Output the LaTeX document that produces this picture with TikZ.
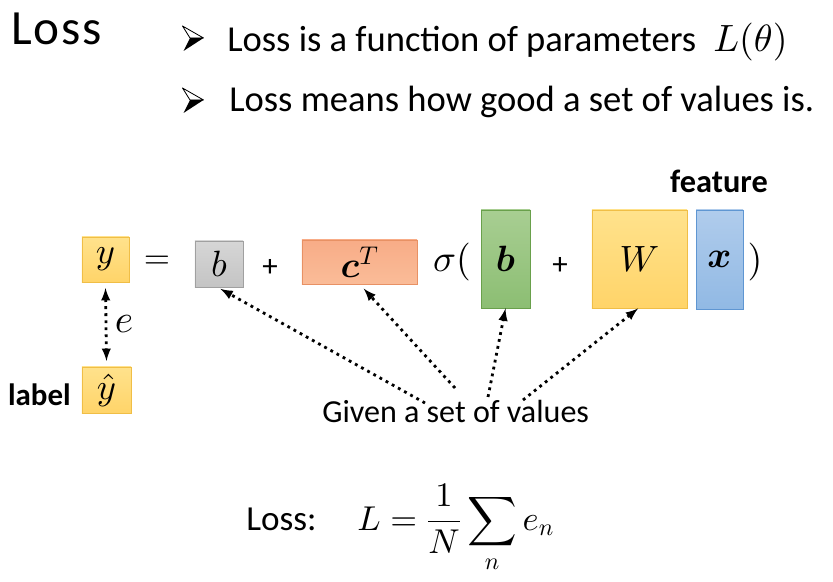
\documentclass[tikz,border=0pt]{standalone}
\usepackage{amsmath,bm}
\usepackage{fontspec}
\setmainfont{Carlito}
% scalable math fonts
\DeclareFontShape{OML}{cmm}{m}{it}{<->cmmi10}{}
\DeclareFontShape{OML}{cmm}{b}{it}{<->cmmib10}{}
\DeclareFontShape{OMS}{cmsy}{m}{n}{<->cmsy10}{}
\DeclareFontShape{OMS}{cmsy}{b}{n}{<->cmbsy10}{}
\DeclareFontShape{OMX}{cmex}{m}{n}{<->cmex10}{}
\DeclareFontShape{OT1}{cmr}{m}{n}{<->cmr10}{}
\DeclareFontShape{OT1}{cmr}{bx}{n}{<->cmbx10}{}

\definecolor{ytop}{RGB}{255,226,140}
\definecolor{ybot}{RGB}{255,212,105}
\definecolor{ybord}{RGB}{240,190,70}
\definecolor{gtop}{RGB}{214,214,214}
\definecolor{gbot}{RGB}{196,196,196}
\definecolor{gbord}{RGB}{160,160,160}
\definecolor{stop}{RGB}{248,172,135}
\definecolor{sbot}{RGB}{250,188,152}
\definecolor{sbord}{RGB}{232,145,100}
\definecolor{ntop}{RGB}{168,206,146}
\definecolor{nbot}{RGB}{140,190,115}
\definecolor{nbord}{RGB}{105,160,75}
\definecolor{btop}{RGB}{176,204,236}
\definecolor{bbot}{RGB}{145,185,228}
\definecolor{bbord}{RGB}{95,150,210}

\tikzset{
	box/.style={line width=0.6pt, inner sep=0pt, font=\fontsize{26}{30}\selectfont},
	ybox/.style={box, draw=ybord, top color=ytop, bottom color=ybot},
	graybox/.style={box, draw=gbord, top color=gtop, bottom color=gbot},
	salbox/.style={box, draw=sbord, top color=stop, bottom color=sbot},
	grnbox/.style={box, draw=nbord, top color=ntop, bottom color=nbot},
	blubox/.style={box, draw=bbord, top color=btop, bottom color=bbot},
	given/.style={line width=2pt, dash pattern=on 2pt off 3pt, -latex},
	big/.style={font=\fontsize{26}{30}\selectfont, anchor=base west, inner sep=0pt},
	mid/.style={font=\fontsize{22}{26}\selectfont},
	arrowbul/.pic={
		\draw[line width=0.6pt, fill=white, line join=round] (-10.5,-12) -- (10.5,0) -- (-3,0) -- cycle;
		\fill[black] (-3,0) -- (10.5,0) -- (-9.5,13) -- cycle;
	},
}

\begin{document}
\begin{tikzpicture}[x=0.025cm, y=-0.025cm]
	\useasboundingbox (0,0) rectangle (833,582);
	% heading and bullets
	\node[anchor=base west, inner sep=0pt, font=\addfontfeature{LetterSpace=4}\fontsize{35}{40}\selectfont] (title) at (11,45) {Loss};
	\pic at (193,38) {arrowbul};
	\node[big] (item1) at (227,52) {Loss is a function of parameters};
	\node[big, font=\fontsize{27}{30}\selectfont] (ltheta) at (713,52) {$L(\theta)$};
	\pic at (193,100) {arrowbul};
	\node[big] (item2) at (229,112) {Loss means how good a set of values is.};

	% model
	\node[ybox, minimum width=1.175cm, minimum height=1.125cm] (y) at (105.5,259.5) {$y$};
	\node[box, font=\fontsize{24}{28}\selectfont] (eq) at (157,262) {$=$};
	\node[graybox, minimum width=1.2cm, minimum height=1.15cm] (b) at (219,264) {$b$};
	\node[mid] (plus1) at (270,268) {+};
	\node[salbox, minimum width=2.875cm, minimum height=1.1cm] (cT) at (359.5,262) {$\bm{c}^T$};
	\node[box, font=\fontsize{27}{30}\selectfont] (sig) at (452,262) {$\sigma($};
	\node[grnbox, minimum width=1.225cm, minimum height=2.45cm] (bv) at (505.5,259) {$\bm{b}$};
	\node[mid] (plus2) at (560,266) {+};
	\node[ybox, minimum width=2.375cm, minimum height=2.45cm] (W) at (639.5,259) {$W$};
	\node[blubox, minimum width=1.175cm, minimum height=2.475cm] (x) at (719.5,259.5) {$\bm{x}$};
	\node[box, font=\fontsize{27}{30}\selectfont] (rpar) at (755,262) {$)$};
	\node[font=\bfseries\fontsize{23}{27}\selectfont] (feat) at (719,181) {feature};

	% label
	\node[ybox, minimum width=1.225cm, minimum height=1.15cm] (yhat) at (106.5,390) {$\hat{y}$};
	\node[font=\bfseries\fontsize{22}{26}\selectfont, anchor=east, inner sep=0pt] (lab) at (71,395) {label};
	\draw[given, latex-latex] ([yshift=-4pt]y.south) -- node[right=6pt, box, font=\fontsize{28}{30}\selectfont] {$e$} ([yshift=4pt]yhat.north);

	% given values
	\node[font=\fontsize{22.8}{26}\selectfont, anchor=base west, inner sep=0pt] (vals) at (322,422) {Given a set of values};
	\coordinate (s1) at (425,403);
	\coordinate (s2) at (455,388);
	\coordinate (s3) at (488,397);
	\coordinate (s4) at (523,400);
	\draw[given] (s1) -- ([xshift=1pt,yshift=-1pt]b.south);
	\draw[given] (s2) -- ([xshift=3pt,yshift=-3pt]cT.south);
	\draw[given] (s3) -- (bv.south);
	\draw[given] (s4) -- ([xshift=-1pt]W.south);

	% loss
	\node[font=\fontsize{25}{29}\selectfont, anchor=base west, inner sep=0pt] (losslab) at (246,530) {Loss:};
	\node[font=\fontsize{24.5}{28}\selectfont, anchor=base west, inner sep=0pt] (formula) at (357,530) {$\displaystyle L=\frac{1}{N}\sum_{n} e_n$};
\end{tikzpicture}
\end{document}
